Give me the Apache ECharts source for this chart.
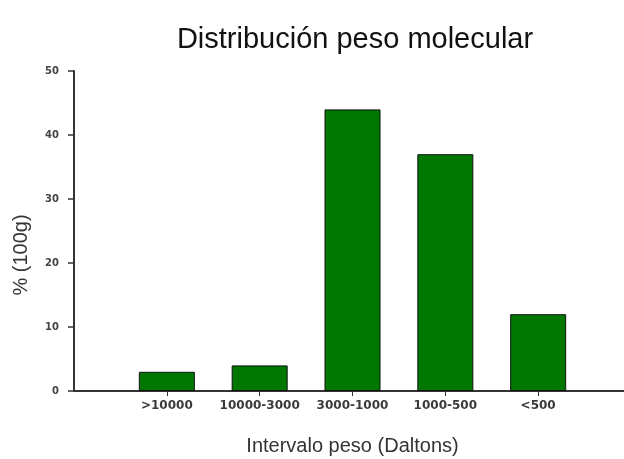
<!DOCTYPE html>
<html>
<head>
<meta charset="utf-8">
<script src="https://cdn.jsdelivr.net/npm/echarts@6/dist/echarts.min.js"></script>
<style>
  html, body { margin: 0; padding: 0; background: #fff; }
  #main { width: 624px; height: 459px; }
</style>
</head>
<body>
<div id="main"></div>
<script>
// rangos de peso molecular
const categories = ['>10000', '10000-3000', '3000-1000', '1000-500', '<500'];
const values = [3, 4, 44, 37, 12];
const yTicks = [0, 10, 20, 30, 40, 50];

const chart = echarts.init(document.getElementById('main'));

// posición 1..5 en el eje x (0 y 6 quedan vacíos)
const positions = categories.map((c, i) => i + 1);
const barData = values.map((v, i) => [positions[i], v]);

const option = {
  backgroundColor: '#fff',
  animation: false,
  title: {
    text: 'Distribución peso molecular',
    left: 350,
    textAlign: 'center',
    top: 20,
    textStyle: {
      fontFamily: 'Liberation Sans',
      fontSize: 29,
      fontWeight: 'normal',
      color: '#111'
    }
  },
  grid: {
    left: 74,
    width: 557,
    top: 71,
    bottom: 68,
    outerBoundsMode: 'none'
  },
  xAxis: {
    type: 'value',
    min: 0,
    max: 6,
    interval: 1,
    name: 'Intervalo peso (Daltons)',
    nameLocation: 'middle',
    nameGap: 45,
    nameTextStyle: {
      fontFamily: 'Liberation Sans',
      fontSize: 20,
      color: '#333'
    },
    splitLine: { show: false },
    axisLine: { lineStyle: { color: '#333', width: 2 } },
    axisTick: { length: 5, customValues: positions, lineStyle: { color: '#333', width: 1 } },
    axisLabel: {
      margin: 9,
      customValues: positions,
      fontFamily: 'DejaVu Sans',
      fontWeight: 'bold',
      fontSize: 12,
      color: '#3a3a3a',
      formatter: function (v) {
        return categories[v - 1] || '';
      }
    }
  },
  yAxis: {
    type: 'value',
    min: yTicks[0],
    max: yTicks[yTicks.length - 1],
    interval: 10,
    name: '% (100g)',
    nameLocation: 'middle',
    nameGap: 43,
    nameTextStyle: {
      fontFamily: 'Liberation Sans',
      fontSize: 20,
      color: '#333',
      padding: [0, 48, 0, 0]
    },
    splitLine: { show: false },
    axisLine: { show: true, lineStyle: { color: '#333', width: 2 } },
    axisTick: { show: true, length: 6, lineStyle: { color: '#333', width: 1.5 } },
    axisLabel: {
      margin: 15,
      fontFamily: 'DejaVu Sans',
      fontWeight: 'bold',
      fontSize: 10,
      color: '#444'
    }
  },
  series: [
    {
      type: 'bar',
      data: barData,
      barWidth: 56,
      itemStyle: {
        color: '#007800',
        borderColor: '#111',
        borderWidth: 1
      }
    }
  ]
};

chart.setOption(option);
</script>
</body>
</html>
